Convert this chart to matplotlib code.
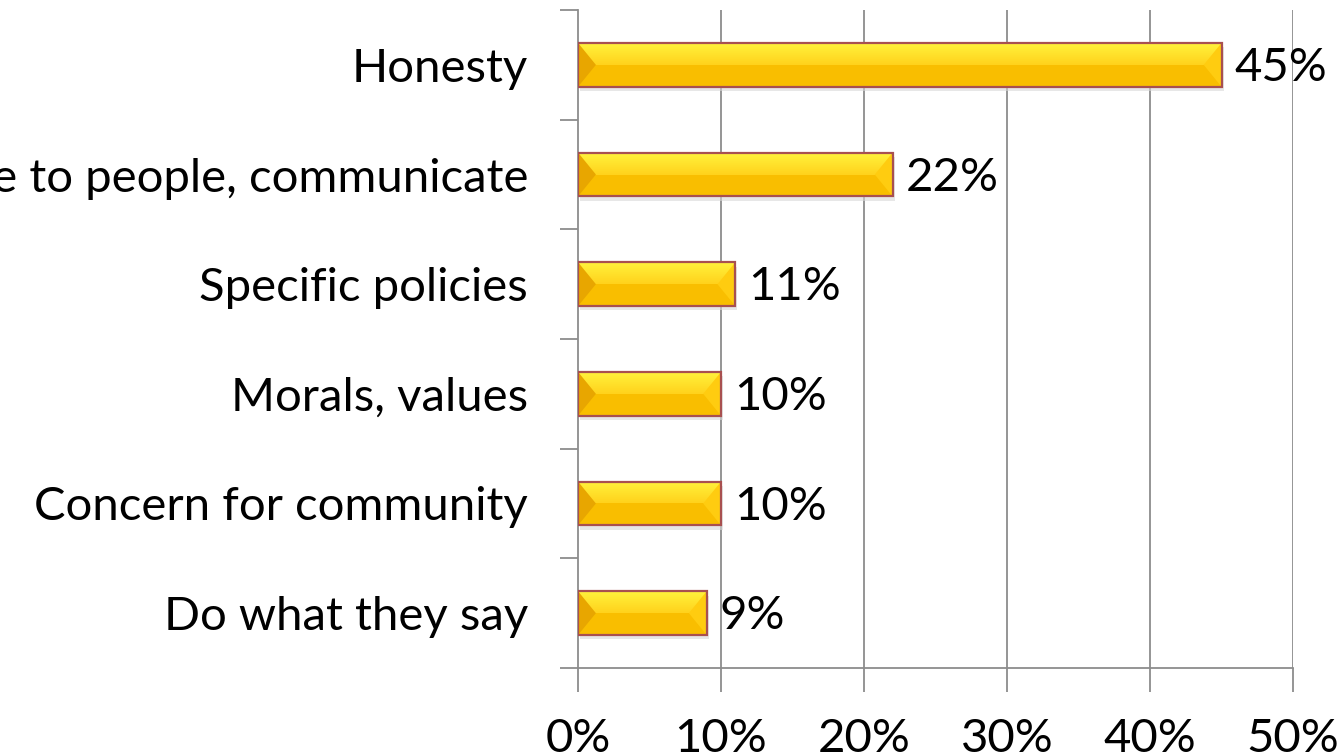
import matplotlib
matplotlib.use("Agg")
import matplotlib.pyplot as plt
from matplotlib.patches import Polygon, Rectangle
from matplotlib.colors import LinearSegmentedColormap
import numpy as np

categories = ["Honesty", "Relate to people, communicate", "Specific policies",
              "Morals, values", "Concern for community", "Do what they say"]
values = [45, 22, 11, 10, 10, 9]
xticks = [0, 10, 20, 30, 40, 50]
xticklabels = ["0%", "10%", "20%", "30%", "40%", "50%"]

plt.rcParams['font.family'] = ['Lato', 'DejaVu Sans']

fig = plt.figure(figsize=(13.43, 7.54), dpi=100)
ax = fig.add_axes([0.4304, 0.1141, 0.5324, 0.8726])

n = len(categories)
ypos = np.arange(n)
h = 0.40
ax.set_xlim(0, 50)
ax.set_ylim(n - 0.5, -0.5)

# grid
for t in xticks[1:]:
    ax.axvline(t, color='#8c8c8c', lw=1.3, zorder=0)

cmap = LinearSegmentedColormap.from_list('g', ['#FFF23C', '#FFD21C'])
bev_x = 1.25  # bevel width in data units
for y, v in zip(ypos, values):
    top = y - h / 2
    bot = y + h / 2
    # shadow
    ax.add_patch(Rectangle((0.15, top + 0.04), v, h, facecolor='#d8d8d8', edgecolor='none', zorder=1, alpha=0.6))
    # base bar
    ax.barh(y, v, height=h, color='#F9BE00', edgecolor='none', zorder=2)
    # upper highlight gradient
    grad = np.linspace(0, 1, 50).reshape(-1, 1)
    ax.imshow(grad, extent=(0, v, y, top), aspect='auto', cmap=cmap, zorder=3, interpolation='bicubic')
    # left bevel triangle
    ax.add_patch(Polygon([(0, top), (bev_x, y), (0, bot)], closed=True,
                         facecolor='#E8A600', edgecolor='none', zorder=4))
    # right bevel triangle
    ax.add_patch(Polygon([(v, top), (v - bev_x, y), (v, bot)], closed=True,
                         facecolor='#FFCC10', edgecolor='none', zorder=4))
    # outline
    ax.add_patch(Rectangle((0, top), v, h, facecolor='none', edgecolor='#A85050', lw=1.6, zorder=5))
    ax.text(v + 0.9, y + 0.03, f"{v}%", va='center', ha='left', fontsize=34, color='black', zorder=6)

ax.set_xticks(xticks)
ax.set_xticklabels(xticklabels, fontsize=34)
ax.set_yticks(ypos)
ax.set_yticklabels(categories, fontsize=34)
ax.tick_params(axis='y', which='major', length=0, pad=36)
ax.set_yticks(np.arange(-0.5, n + 0.5, 1), minor=True)
ax.tick_params(axis='y', which='minor', length=13, width=1.3, color='#8c8c8c', direction='out')
ax.tick_params(axis='x', length=17, width=1.3, color='#8c8c8c', direction='out', pad=19)

for s in ['top', 'right']:
    ax.spines[s].set_visible(False)
for s in ['left', 'bottom']:
    ax.spines[s].set_color('#8c8c8c')
    ax.spines[s].set_linewidth(1.3)

fig.savefig("out.png", dpi=100)
